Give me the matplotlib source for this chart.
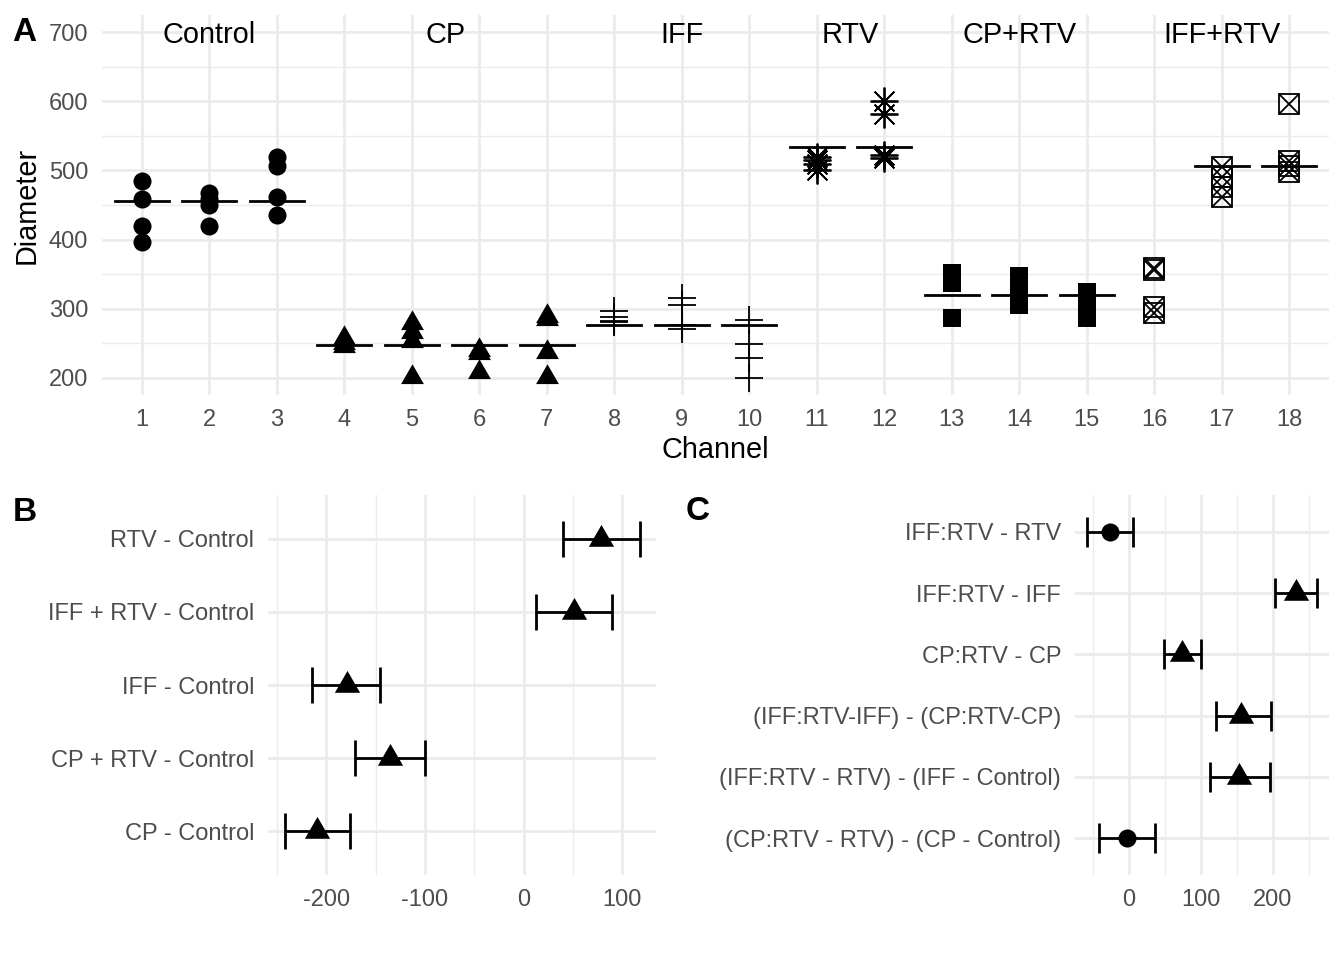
import matplotlib
matplotlib.use('Agg')
import matplotlib.pyplot as plt
import numpy as np

plt.rcParams['font.family'] = ['Liberation Sans', 'DejaVu Sans']
plt.rcParams['axes.unicode_minus'] = False  # plain hyphen like the original

# ---- panel A: diameters per channel ----
channels = list(range(1, 19))
diameter = [
    [485, 458, 420, 397],        # 1
    [468, 458, 450, 420],        # 2
    [519, 506, 462, 436],        # 3
    [257, 250, 246],             # 4
    [279, 266, 253, 201],        # 5
    [240, 236, 209],             # 6
    [290, 285, 237, 201],        # 7
    [297, 288, 282, 280],        # 8
    [315, 305, 276, 271],        # 9
    [283, 249, 228, 200],        # 10
    [519, 515, 510, 501],        # 11
    [601, 581, 522, 518],        # 12
    [352, 345, 337, 287],        # 13
    [347, 335, 320, 305],        # 14
    [324, 310, 298, 287],        # 15
    [359, 356, 303, 294],        # 16
    [505, 491, 476, 462],        # 17
    [596, 514, 507, 498],        # 18
]
channel_shape = ['circle'] * 3 + ['triangle'] * 4 + ['plus'] * 3 + ['asterisk'] * 2 \
    + ['square'] * 3 + ['boxx'] * 3
# group mean drawn as a bar on each channel (none on channel 16)
group_mean = [456, 456, 456, 247, 247, 247, 247, 276, 276, 276, 534, 534,
              320, 320, 320, None, 506, 506]
group_names = ['Control', 'CP', 'IFF', 'RTV', 'CP+RTV', 'IFF+RTV']
group_label_x = [2, 5.5, 9, 11.5, 14, 17]

# ---- panel B: contrasts vs control ----
b_labels = ['CP - Control', 'CP + RTV - Control', 'IFF - Control',
            'IFF + RTV - Control', 'RTV - Control']
b_est = [-209.6, -135.6, -179.3, 50.6, 78.7]
b_lo = [-242.0, -170.6, -214.0, 12.5, 40.2]
b_hi = [-175.9, -100.0, -145.6, 89.6, 117.3]

# ---- panel C: interaction contrasts ----
c_labels = ['(CP:RTV - RTV) - (CP - Control)', '(IFF:RTV - RTV) - (IFF - Control)',
            '(IFF:RTV-IFF) - (CP:RTV-CP)', 'CP:RTV - CP', 'IFF:RTV - IFF', 'IFF:RTV - RTV']
c_est = [-2.8, 153.0, 156.0, 73.8, 232.6, -26.0]
c_lo = [-42.0, 112.0, 120.8, 49.0, 203.0, -58.6]
c_hi = [36.6, 196.0, 197.0, 100.3, 262.0, 6.0]

GRID = '#EBEBEB'
TICK_COL = '#4D4D4D'
TRI = [(-1, -0.577), (1, -0.577), (0, 1.155)]


def style_axes(ax):
    for s in ax.spines.values():
        s.set_visible(False)
    ax.set_axisbelow(True)
    ax.grid(which='major', color=GRID, lw=2.0)
    ax.grid(which='minor', color=GRID, lw=1.0)
    ax.tick_params(which='both', length=0, labelsize=17, labelcolor=TICK_COL, pad=10)


fig = plt.figure(figsize=(13.44, 9.6), dpi=100)

# ---------------- A ----------------
axA = fig.add_axes([102 / 1344, 1 - 395 / 960, 1227 / 1344, 380 / 960])
style_axes(axA)
axA.xaxis.grid(which='minor', visible=False)
for ch, vals, shp in zip(channels, diameter, channel_shape):
    x = np.full(len(vals), ch)
    if shp == 'circle':
        axA.plot(x, vals, 'o', color='black', ms=13, mew=0, ls='none', zorder=3)
    elif shp == 'triangle':
        axA.plot(x, vals, marker=TRI, color='black', ms=19, mew=0, ls='none', zorder=3)
    elif shp == 'plus':
        axA.plot(x, vals, '+', color='black', ms=20, mew=1.3, ls='none', zorder=3)
    elif shp == 'asterisk':
        axA.plot(x, vals, marker=(8, 2, 0), color='black', ms=20, mew=1.3, ls='none', zorder=3)
    elif shp == 'square':
        axA.plot(x, vals, 's', color='black', ms=13.4, mew=0, ls='none', zorder=3)
    else:
        axA.plot(x, vals, 's', mfc='none', mec='black', ms=14, mew=1.3, ls='none', zorder=3)
        axA.plot(x, vals, 'x', color='black', ms=14, mew=1.3, ls='none', zorder=3)
for ch, m in zip(channels, group_mean):
    if m is not None:
        axA.plot([ch - 0.4, ch + 0.4], [m, m], color='black', lw=2.0, zorder=4)
for name, gx in zip(group_names, group_label_x):
    axA.annotate(name, xy=(gx, 700), xytext=(0, -7.7), textcoords='offset points',
                 ha='center', va='baseline', fontsize=20.8, color='black')
axA.set_xlim(0.41, 18.59)
axA.set_ylim(175, 725)
axA.set_xticks(channels)
axA.set_yticks([200, 300, 400, 500, 600, 700])
axA.set_yticks([250, 350, 450, 550, 650], minor=True)
axA.set_xlabel('Channel', fontsize=20.8, labelpad=4)
axA.set_ylabel('Diameter', fontsize=20.8, labelpad=6)

# ---------------- B ----------------
axB = fig.add_axes([268 / 1344, 1 - 875 / 960, 388 / 1344, 380 / 960])
style_axes(axB)
yb = np.arange(1, len(b_labels) + 1)
for y, e, lo, hi in zip(yb, b_est, b_lo, b_hi):
    axB.errorbar(e, y, xerr=[[e - lo], [hi - e]], fmt='none', ecolor='black',
                 elinewidth=2.0, capsize=13.2, capthick=2.0, zorder=3)
    if lo < 0 < hi:
        axB.plot(e, y, 'o', color='black', ms=13, mew=0, zorder=4)
    else:
        axB.plot(e, y, marker=TRI, color='black', ms=21, mew=0, zorder=4)
axB.set_yticks(yb)
axB.set_yticklabels(b_labels)
axB.set_ylim(0.4, len(b_labels) + 0.6)
axB.set_xlim(-259, 134)
axB.set_xticks([-200, -100, 0, 100])
axB.set_xticks([-250, -150, -50, 50], minor=True)
axB.yaxis.grid(which='minor', visible=False)

# ---------------- C ----------------
axC = fig.add_axes([1075 / 1344, 1 - 875 / 960, 254 / 1344, 380 / 960])
style_axes(axC)
yc = np.arange(1, len(c_labels) + 1)
for y, e, lo, hi in zip(yc, c_est, c_lo, c_hi):
    axC.errorbar(e, y, xerr=[[e - lo], [hi - e]], fmt='none', ecolor='black',
                 elinewidth=2.0, capsize=11.0, capthick=2.0, zorder=3)
    if lo < 0 < hi:
        axC.plot(e, y, 'o', color='black', ms=13, mew=0, zorder=4)
    else:
        axC.plot(e, y, marker=TRI, color='black', ms=21, mew=0, zorder=4)
axC.set_yticks(yc)
axC.set_yticklabels(c_labels)
axC.set_ylim(0.4, len(c_labels) + 0.6)
axC.set_xlim(-75, 278)
axC.set_xticks([0, 100, 200])
axC.set_xticks([-50, 50, 150, 250], minor=True)
axC.yaxis.grid(which='minor', visible=False)

# panel letters
fig.text(12 / 1344, 1 - 41 / 960, 'A', fontsize=24, fontweight='bold', va='baseline')
fig.text(13 / 1344, 1 - 521 / 960, 'B', fontsize=24, fontweight='bold', va='baseline')
fig.text(686 / 1344, 1 - 520 / 960, 'C', fontsize=24, fontweight='bold', va='baseline')

fig.savefig('out.png', dpi=100, facecolor='white')
